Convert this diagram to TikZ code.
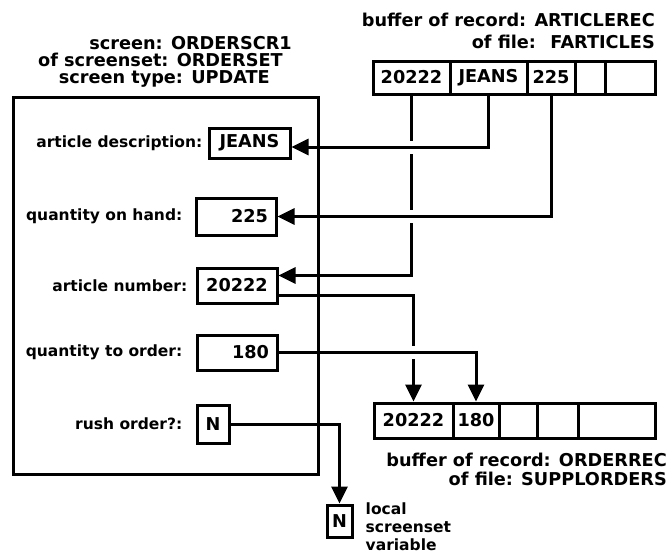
\documentclass[tikz,border=0pt]{standalone}
\usepackage{fontspec}
\setmainfont{DejaVu Sans}
\usetikzlibrary{arrows.meta, positioning, backgrounds}

\begin{document}
\begin{tikzpicture}[
    x=1pt, y=-1pt,
    head/.style={font=\fontsize{17.7}{19}\selectfont\bfseries, inner sep=0pt, text height=12pt, text depth=2pt},
    lbl/.style={font=\fontsize{15.5}{18}\selectfont\bfseries, inner sep=0pt},
    field/.style={draw, line width=3pt, inner sep=0pt, font=\fontsize{17.7}{19}\selectfont\bfseries},
    cell/.style={field, minimum height=33pt},
    ocell/.style={field, minimum height=35pt},
    link/.style={line width=3pt, -{Triangle[length=17pt, width=16pt]}},
    hop/.style={link, preaction={draw=white, line width=13pt, -}}
  ]
    \useasboundingbox (0,0) rectangle (672,555);

    % Article buffer (top right)
    \node[head, anchor=east] (aRec) at (655,21) {buffer of record: ARTICLEREC};
    \node[head, anchor=east] (aFile) at (655,43) {of file:~ FARTICLES};
    \node[cell, minimum width=77pt] (aNum) at (411.5,77.5) {20222};
    \node[cell, minimum width=77pt] (aDesc) at (488.5,77.5) {JEANS};
    \node[cell, minimum width=48pt] (aQty) at (551,77.5) {225};
    \node[cell, minimum width=30pt] (aX1) at (590,77.5) {};
    \node[cell, minimum width=50pt] (aX2) at (630,77.5) {};

    % Screen (left)
    \node[head, anchor=east] (scrName) at (292,44) {screen: ORDERSCR1};
    \node[head, anchor=east] (scrSet) at (283,61) {of screenset: ORDERSET};
    \node[head, anchor=east] (scrType) at (270,78) {screen type: UPDATE};
    \node[draw, line width=3pt, minimum width=305pt, minimum height=377pt] (screen) at (165.5,285.5) {};

    % Screen fields
    \node[field, minimum width=81pt, minimum height=30pt] (fDesc) at (249.5,143) {JEANS};
    \node[field, minimum width=80pt, minimum height=37pt, text width=64pt, align=right] (fQty) at (236,216.5) {225};
    \node[field, minimum width=80pt, minimum height=35pt] (fNum) at (237,285.5) {20222};
    \node[field, minimum width=80pt, minimum height=35pt, text width=64pt, align=right] (fOrder) at (237,352.5) {180};
    \node[field, minimum width=32pt, minimum height=38pt] (fRush) at (213,424) {N};

    \node[lbl, left=5pt of fDesc] (lDesc) {article description:};
    \node[lbl, left=12pt of fQty] (lQty) {quantity on hand:};
    \node[lbl, left=8pt of fNum] (lNum) {article number:};
    \node[lbl, left=13pt of fOrder] (lOrder) {quantity to order:};
    \node[lbl, left=13pt of fRush] (lRush) {rush order?:};

    % Order buffer (bottom right)
    \node[ocell, minimum width=79pt] (oNum) at (413.5,420.5) {20222};
    \node[ocell, minimum width=46pt] (oQty) at (476,420.5) {180};
    \node[ocell, minimum width=38pt] (oX1) at (518,420.5) {};
    \node[ocell, minimum width=41pt] (oX2) at (557.5,420.5) {};
    \node[ocell, minimum width=77pt] (oX3) at (616.5,420.5) {};
    \node[head, anchor=east] (oRec) at (667,461) {buffer of record: ORDERREC};
    \node[head, anchor=east] (oFile) at (667,480) {of file: SUPPLORDERS};

    % Local variable
    \node[field, minimum width=25pt, minimum height=32pt] (nLocal) at (339.5,521) {N};
    \node[lbl, align=left, right=12pt of nLocal, yshift=-6pt] (nNote) {local\\screenset\\variable};

    % Arrows
    \begin{scope}[on background layer]
      \draw[link] (aNum.south) |- ([yshift=10pt]fNum.east);
      \draw[link] ([yshift=-10pt]fNum.east) -| (oNum.north);
      \draw[hop] (aDesc.south) |- ([yshift=-4pt]fDesc.east);
      \draw[hop] (aQty.south) |- (fQty.east);
      \draw[hop] (fOrder.east) -| (oQty.north);
      \draw[link] (fRush.east) -| (nLocal.north);
    \end{scope}
\end{tikzpicture}
\end{document}
